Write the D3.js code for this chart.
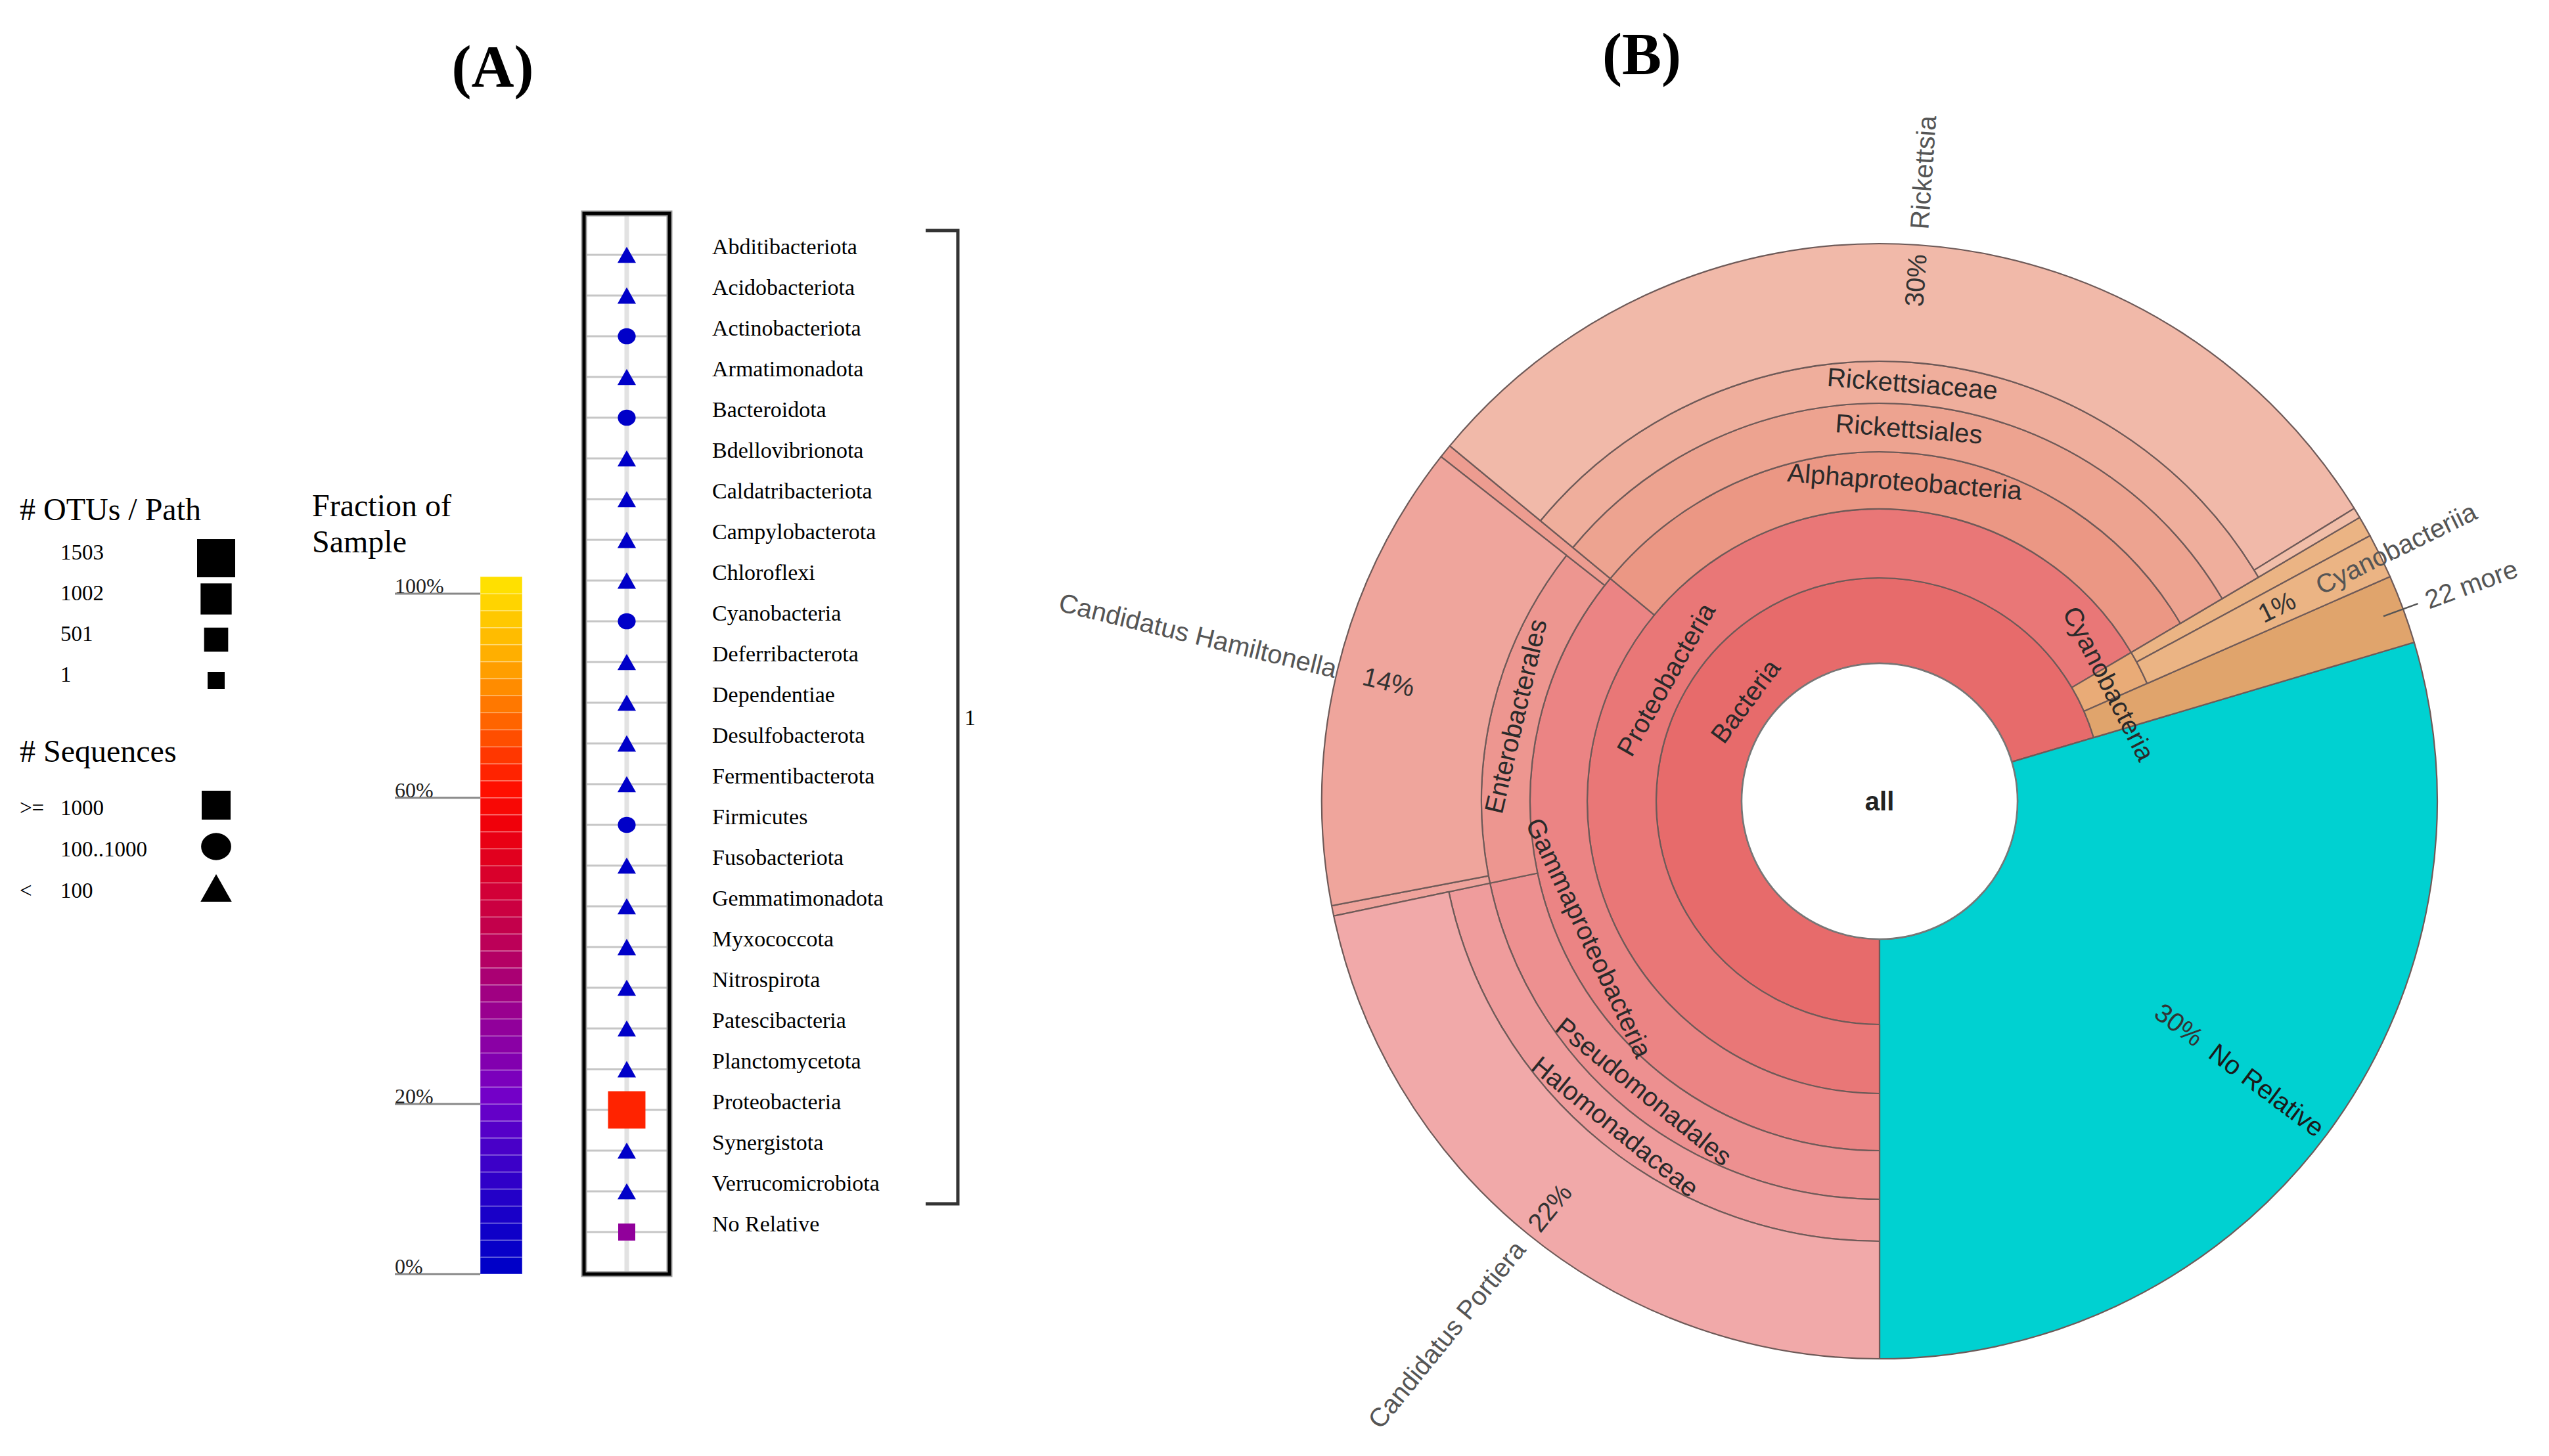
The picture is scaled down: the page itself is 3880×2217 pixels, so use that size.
<!DOCTYPE html>
<html><head><meta charset="utf-8">
<script src="https://cdn.jsdelivr.net/npm/d3@7"></script>
<style>html,body{margin:0;padding:0;background:#fff;}svg{display:block;}</style>
</head><body>
<svg id="chart" width="3880" height="2217"></svg>
<script>
// ================= DATA =================
const panelTitles = ["(A)", "(B)"];

const otuLegendTitle = "# OTUs / Path";
const otuLegendValues = [1503, 1002, 501, 1];
const seqLegendTitle = "# Sequences";
const seqLegendOps = [">=", "", "<"];
const seqLegendLabels = ["1000", "100..1000", "100"];
const seqLegendShapes = ["square", "circle", "triangle"];

const fractionTitle = ["Fraction of", "Sample"];
const fractionTicks = [0, 0.2, 0.6, 1.0];
const fractionTickLabels = ["0%", "20%", "60%", "100%"];

const phyla = ["Abditibacteriota","Acidobacteriota","Actinobacteriota","Armatimonadota","Bacteroidota",
  "Bdellovibrionota","Caldatribacteriota","Campylobacterota","Chloroflexi","Cyanobacteria",
  "Deferribacterota","Dependentiae","Desulfobacterota","Fermentibacterota","Firmicutes",
  "Fusobacteriota","Gemmatimonadota","Myxococcota","Nitrospirota","Patescibacteria",
  "Planctomycetota","Proteobacteria","Synergistota","Verrucomicrobiota","No Relative"];
const phylumSequences = [3, 41, 420, 6, 310, 12, 2, 18, 35, 780, 4, 9, 27, 3, 150, 14, 8, 22, 11, 5, 30, 39900, 7, 16, 17760];
const phylumOTUs = [1, 6, 12, 2, 9, 3, 1, 4, 5, 8, 1, 2, 5, 1, 7, 2, 2, 4, 3, 1, 6, 1452, 2, 3, 1];
const phylumFractions = [0.0001, 0.0007, 0.007, 0.0001, 0.005, 0.0002, 0.00003, 0.0003, 0.0006, 0.013,
  0.0001, 0.00015, 0.0005, 0.00005, 0.0025, 0.0002, 0.00013, 0.0004, 0.0002, 0.0001,
  0.0005, 0.665, 0.0001, 0.0003, 0.296];
const bracketLabel = "1";

// Sunburst (Krona-style) hierarchy, leaf values in % of sample
const nodeIds = ["all","Bacteria","No Relative","Proteobacteria","Cyanobacteria","22 more",
  "Gammaproteobacteria","Alphaproteobacteria","Pseudomonadales","Enterobacterales","gamma-other",
  "Halomonadaceae","Candidatus Portiera","entero-other","Candidatus Hamiltonella",
  "Rickettsiales","Rickettsiaceae","Rickettsia","rickettsiaceae-other",
  "cyano-other","Cyanobacteriia"];
const nodeParents = ["","all","all","Bacteria","Bacteria","Bacteria",
  "Proteobacteria","Proteobacteria","Gammaproteobacteria","Gammaproteobacteria","Gammaproteobacteria",
  "Pseudomonadales","Halomonadaceae","Enterobacterales","Enterobacterales",
  "Alphaproteobacteria","Rickettsiales","Rickettsiaceae","Rickettsiaceae",
  "Cyanobacteria","Cyanobacteria"];
const nodeLabels = ["all","Bacteria","No Relative","Proteobacteria","Cyanobacteria","22 more",
  "Gammaproteobacteria","Alphaproteobacteria","Pseudomonadales","Enterobacterales","",
  "Halomonadaceae","Candidatus Portiera","","Candidatus Hamiltonella",
  "Rickettsiales","Rickettsiaceae","Rickettsia","",
  "","Cyanobacteriia"];
const leafPercents = [0,0,29.6,0,0,2.0, 0,0,0,0,0.4, 0,21.7,0.3,13.6, 0,0,30.2,0.3, 0.6,1.3];

// ================= DRAW =================
const svg = d3.select("#chart");
const serif = "'Liberation Serif','Times New Roman',Times,serif";
const sans = "'Liberation Sans',Arial,Helvetica,sans-serif";

// Titles
svg.append("text").attr("x",750).attr("y",132).attr("text-anchor","middle")
  .attr("font-family",serif).attr("font-weight","bold").attr("font-size",90).text(panelTitles[0]);
svg.append("text").attr("x",2499).attr("y",113).attr("text-anchor","middle")
  .attr("font-family",serif).attr("font-weight","bold").attr("font-size",90).text(panelTitles[1]);

const A = svg.append("g").attr("font-family",serif).attr("fill","#000");

function drawShape(g, shape, x, y, s, fill){
  if(shape==="square"){
    g.append("rect").attr("x",x-s/2).attr("y",y-s/2).attr("width",s).attr("height",s).attr("fill",fill);
  } else if(shape==="circle"){
    g.append("ellipse").attr("cx",x).attr("cy",y).attr("rx",s*0.52).attr("ry",s*0.47).attr("fill",fill);
  } else {
    const w = s*1.08, h = s*0.95;
    g.append("path").attr("d",`M${x},${y-h/2}L${x+w/2},${y+h/2}L${x-w/2},${y+h/2}Z`).attr("fill",fill);
  }
}

// OTU legend
const otuSize = d3.scaleLinear().domain([1,1503]).range([26,58]);
A.append("text").attr("x",30).attr("y",792).attr("font-size",48).text(otuLegendTitle);
otuLegendValues.forEach((v,i)=>{
  const y = 852 + i*62;
  A.append("text").attr("x",92).attr("y",y).attr("font-size",33).text(v);
  drawShape(A,"square",329,y-2,otuSize(v),"#000");
});

// Sequences legend
A.append("text").attr("x",30).attr("y",1160).attr("font-size",48).text(seqLegendTitle);
seqLegendLabels.forEach((lab,i)=>{
  const y = 1241 + i*63;
  if(seqLegendOps[i]) A.append("text").attr("x",30).attr("y",y).attr("font-size",33).text(seqLegendOps[i]);
  A.append("text").attr("x",92).attr("y",y).attr("font-size",33).text(lab);
  drawShape(A,seqLegendShapes[i],329,y-15,44,"#000");
});

// Colour bar
A.append("text").attr("x",475).attr("y",786).attr("font-size",48).text(fractionTitle[0]);
A.append("text").attr("x",475).attr("y",841).attr("font-size",48).text(fractionTitle[1]);
const nSeg = 41, barX = 731, barW = 64, barTop = 878, barBot = 1940;
const segH = (barBot-barTop)/nSeg;
const segScale = d3.scaleLinear().domain(fractionTicks).range([0,10,28,40]);
const colourStopsT = [0,0.05,0.1,0.15,0.2,0.25,0.3,0.35,0.4,0.45,0.5,0.55,0.6,0.65,0.7,0.75,0.8,0.85,0.9,0.95,1];
const colourStops = ["rgb(0,0,200)","rgb(15,0,200)","rgb(35,0,200)","rgb(60,0,200)","rgb(85,0,200)",
  "rgb(115,0,200)","rgb(130,0,175)","rgb(145,0,155)","rgb(160,0,130)","rgb(180,0,100)","rgb(195,0,75)",
  "rgb(210,0,55)","rgb(225,0,30)","rgb(240,0,10)","rgb(255,15,0)","rgb(255,55,0)","rgb(255,100,0)",
  "rgb(255,140,0)","rgb(255,175,0)","rgb(255,200,0)","rgb(255,224,0)"];
const colourT = d3.scaleLinear().domain(colourStopsT).range(colourStops).interpolate(d3.interpolateRgb);
const fracColour = f => colourT(Math.min(40,Math.floor(segScale(f)))/40);
d3.range(nSeg).forEach(k=>{
  A.append("rect").attr("x",barX).attr("y",barBot-(k+1)*segH).attr("width",barW).attr("height",segH)
    .attr("fill",colourT(k/40)).attr("stroke","rgba(255,255,255,0.3)").attr("stroke-width",1.5);
});
fractionTicks.forEach((v,i)=>{
  const y = barBot - segScale(v)*segH;
  A.append("line").attr("x1",601).attr("x2",barX).attr("y1",y).attr("y2",y).attr("stroke","#888").attr("stroke-width",3);
  A.append("text").attr("x",601).attr("y",y-1).attr("font-size",32).attr("fill","#222").text(fractionTickLabels[i]);
});

// Phylum list box
const rowY = d3.scalePoint().domain(phyla).range([388, 388+24*62]);
const boxX = 889, boxY = 325, boxW = 130, boxH = 1615, boxCx = boxX+boxW/2;
A.append("line").attr("x1",boxCx).attr("x2",boxCx).attr("y1",boxY).attr("y2",boxY+boxH)
  .attr("stroke","#e2e2e2").attr("stroke-width",7);
phyla.forEach(p=>{
  A.append("line").attr("x1",boxX).attr("x2",boxX+boxW).attr("y1",rowY(p)).attr("y2",rowY(p))
    .attr("stroke","#c6c6c6").attr("stroke-width",3);
});
A.append("rect").attr("x",boxX).attr("y",boxY).attr("width",boxW).attr("height",boxH)
  .attr("fill","none").attr("stroke","#999").attr("stroke-width",9);
A.append("rect").attr("x",boxX).attr("y",boxY).attr("width",boxW).attr("height",boxH)
  .attr("fill","none").attr("stroke","#000").attr("stroke-width",5);
phyla.forEach((p,i)=>{
  const seq = phylumSequences[i];
  const shape = seq>=1000 ? "square" : (seq>=100 ? "circle" : "triangle");
  drawShape(A,shape,boxCx,rowY(p),otuSize(phylumOTUs[i]),fracColour(phylumFractions[i]));
  A.append("text").attr("x",1084).attr("y",rowY(p)-1).attr("font-size",34).text(p);
});
// bracket
const bTop = rowY(phyla[0]) - 37, bBot = rowY(phyla[23]) + 19;
A.append("path").attr("d",`M1409,${bTop}H1458V${bBot}H1409`).attr("fill","none")
  .attr("stroke","#333").attr("stroke-width",5);
A.append("text").attr("x",1468).attr("y",(bTop+bBot)/2+12).attr("font-size",34).text(bracketLabel);

// ================= SUNBURST =================
const cx = 2861, cy = 1220, R = 849;
const ringRadii = [0,210,340,445,532,606,670,849];
const table = nodeIds.map((id,i)=>({id, parent: nodeParents[i]||null, value: leafPercents[i], label: nodeLabels[i]}));
const root = d3.stratify().id(d=>d.id).parentId(d=>d.parent)(table);
root.sum(d=>d.value);
d3.partition().size([2*Math.PI,1])(root);

const hueOf = {"Bacteria":0,"Proteobacteria":0,"Gammaproteobacteria":0,"Pseudomonadales":0,"Halomonadaceae":0,
  "Candidatus Portiera":0,"Enterobacterales":4,"entero-other":5,"Candidatus Hamiltonella":6,"gamma-other":8,
  "Alphaproteobacteria":11,"Rickettsiales":12,"Rickettsiaceae":13,"Rickettsia":14,"rickettsiaceae-other":18,
  "Cyanobacteria":27,"cyano-other":28,"Cyanobacteriia":28,"22 more":29};
function fillOf(d){
  if(d.id==="No Relative") return "#00D1D1";
  if(d.id==="22 more") return d3.hsl(29,0.65,0.65).toString();
  return d3.hsl(hueOf[d.id]||0, 0.72, 0.635+0.028*d.depth).toString();
}
const inner = d=>ringRadii[d.depth];
const outer = d=>d.children ? ringRadii[d.depth+1] : R;
const arc = d3.arc().startAngle(d=>d.x0+Math.PI).endAngle(d=>d.x1+Math.PI)
  .innerRadius(inner).outerRadius(outer);

const S = svg.append("g").attr("transform",`translate(${cx},${cy})`).attr("font-family",sans);
S.selectAll("path.cell").data(root.descendants().filter(d=>d.depth>0)).join("path")
  .attr("class","cell").attr("d",arc).attr("fill",fillOf)
  .attr("stroke","#6e5a58").attr("stroke-width",2.2).attr("stroke-linejoin","round");
S.append("circle").attr("r",ringRadii[1]).attr("fill","#fff").attr("stroke","#777").attr("stroke-width",2.5);
S.append("text").attr("x",0).attr("y",0).attr("dy","0.35em").attr("text-anchor","middle")
  .attr("font-size",40).attr("font-weight","bold").attr("fill","#222").text(root.data.label);

const deg = d=>(((d.x0+d.x1)/2+Math.PI)*180/Math.PI)%360;
const pos = (r,t)=>[r*Math.sin(t*Math.PI/180), -r*Math.cos(t*Math.PI/180)];

// tangential labels for inner nodes (small inward shift on the two innermost rings)
const labelShift = {1: -20, 2: -18};
root.descendants().filter(d=>d.depth>0 && d.children && d.data.label).forEach(d=>{
  const t = deg(d), r = (inner(d)+outer(d))/2 + (labelShift[d.depth]||0) * (d.id==="Cyanobacteria"?0:1);
  const [x,y] = pos(r,t);
  const rot = (t>90 && t<270) ? t-180 : t;
  S.append("text").attr("transform",`translate(${x},${y}) rotate(${rot})`)
    .attr("text-anchor","middle").attr("dy","0.35em").attr("font-size",40).attr("fill","#2a2a2a")
    .text(d.data.label);
});

// radial labels for leaves
const leafLabelCfg = {
  "Rickettsia": {pctOuter: R-14, nameInner: R+24},
  "Candidatus Hamiltonella": {pctOuter: R-40, nameInner: R+2},
  "Candidatus Portiera": {pctOuter: R-12, nameInner: R+20},
  "Cyanobacteriia": {pctOuter: 702, nameInner: 742},
  "No Relative": {pctOuter: 609, nameInner: 632, nameColor: "#1a1a1a"},
  "22 more": {pctOuter: null, nameInner: 886, tick: [817, 873]}
};
root.leaves().forEach(d=>{
  const cfg = leafLabelCfg[d.id];
  if(!cfg) return;
  const t = deg(d);
  const right = t>0 && t<180;
  const rot = right ? t-90 : t+90;
  if(cfg.pctOuter){
    const [x,y] = pos(cfg.pctOuter,t);
    S.append("text").attr("transform",`translate(${x},${y}) rotate(${rot})`)
      .attr("text-anchor", right ? "end" : "start").attr("dy","0.35em")
      .attr("font-size",40).attr("fill","#333").text(Math.round(d.value)+"%");
  }
  if(cfg.tick){
    const [x1,y1] = pos(cfg.tick[0],t), [x2,y2] = pos(cfg.tick[1],t);
    S.append("line").attr("x1",x1).attr("y1",y1).attr("x2",x2).attr("y2",y2)
      .attr("stroke","#555").attr("stroke-width",2.5);
  }
  const [x,y] = pos(cfg.nameInner,t);
  S.append("text").attr("transform",`translate(${x},${y}) rotate(${rot})`)
    .attr("text-anchor", right ? "start" : "end").attr("dy","0.35em")
    .attr("font-size",40).attr("fill",cfg.nameColor||"#555").text(d.data.label);
});
</script>
</body></html>
